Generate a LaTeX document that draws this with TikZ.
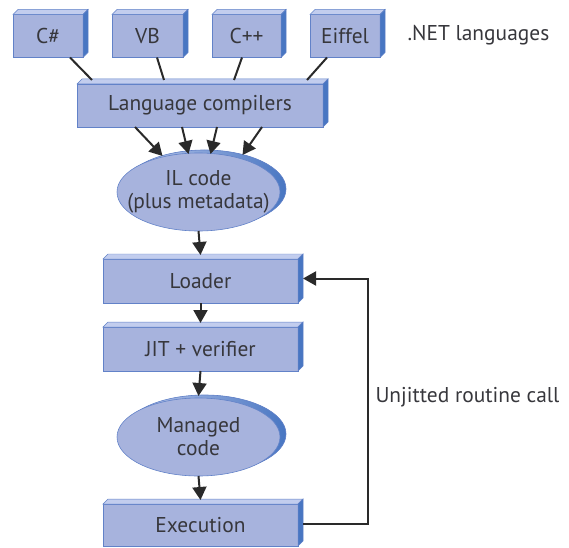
\documentclass[tikz,border=0pt]{standalone}
\usepackage{fontspec}
\setmainfont{PT Sans}
\usetikzlibrary{shapes.geometric,shadows,arrows.meta}

\definecolor{boxface}{RGB}{167,179,221}
\definecolor{boxline}{RGB}{98,130,200}
\definecolor{boxtop}{RGB}{194,205,238}
\definecolor{boxside}{RGB}{72,118,194}
\definecolor{inktext}{RGB}{55,55,60}
\definecolor{inkline}{RGB}{42,42,42}

\newcommand{\labelsize}{\fontsize{21.5}{23}\selectfont}

\tikzset{
  netbox/.style={rectangle, draw=boxline, line width=0.6pt, fill=boxface, outer sep=0pt,
    minimum height=43bp, text=inktext, font=\labelsize},
  netdisc/.style={ellipse, draw=boxline, line width=0.6pt, fill=boxface, outer sep=0pt,
    inner sep=0pt, text=inktext, align=center, font=\labelsize,
    minimum width=163bp, minimum height=78bp,
    copy shadow={shadow xshift=6bp, shadow yshift=3bp, left color=boxtop, right color=boxside, draw=boxline}},
  feed/.style={draw=inkline, line width=2bp},
  flow/.style={feed, -{Triangle[length=13bp,width=14bp]}},
}

% top and right faces of a box
\newcommand{\extrudebox}[1]{%
  \filldraw[fill=boxtop, draw=boxline, line width=0.5pt] (#1.north west) -- ++(5,-5) -- ([shift={(5,-5)}]#1.north east) -- (#1.north east) -- cycle;
  \filldraw[fill=boxside, draw=boxline, line width=0.5pt] (#1.north east) -- ++(5,-5) -- ([shift={(5,-5)}]#1.south east) -- (#1.south east) -- cycle;}

\begin{document}
\begin{tikzpicture}[x=1bp,y=-1bp]
 \useasboundingbox (0,0) rectangle (569,548);

 \node (csharp) [netbox, minimum width=70bp] at (48,36) {C\#};
 \node (vb) [netbox, minimum width=71bp] at (147.5,36) {VB};
 \node (cpp) [netbox, minimum width=69bp] at (246.5,36) {C++};
 \node (eiffel) [netbox, minimum width=70bp] at (345,36) {Eiffel};
 \node (netlang) [anchor=west, text=inktext, font=\labelsize] at (404,35) {.NET languages};

 \node (compilers) [netbox, minimum width=246bp] at (200,105.5) {Language compilers};
 \node (ilcode) [netdisc, inner xsep=-18bp] at (198.5,192) {IL code\\(plus metadata)};
 \node (loader) [netbox, minimum width=195bp, minimum height=44bp] at (200.5,281) {Loader};
 \node (jit) [netbox, minimum width=195bp, minimum height=44bp] at (200.5,349) {JIT + verifier};
 \node (managed) [netdisc] at (198.5,437) {Managed\\code};
 \node (execution) [netbox, minimum width=195bp, minimum height=42bp] at (200.5,525) {Execution};
 \node (unjitted) [anchor=west, text=inktext, font=\labelsize] at (372,397) {Unjitted routine call};

 \foreach \b in {csharp,vb,cpp,eiffel,compilers,loader,jit,execution}
   \extrudebox{\b};

 \draw[feed] ([xshift=22bp]csharp.south) -- ([xshift=-108bp,yshift=4bp]compilers.north);
 \draw[feed] ([xshift=9.5bp]vb.south) -- ([xshift=-36bp,yshift=4bp]compilers.north);
 \draw[feed] ([xshift=-4.5bp]cpp.south) -- ([xshift=34bp,yshift=4bp]compilers.north);
 \draw[feed] ([xshift=-18bp]eiffel.south) -- ([xshift=107bp,yshift=4bp]compilers.north);

 \foreach \a/\b/\c in {-65/-36/-3, -18/-10/-1, 17/12/-1, 62/44/-2}
   \draw[flow] ([xshift=\a bp]compilers.south) -- ([xshift=\b bp,yshift=\c bp]ilcode.north);

 \draw[flow] (ilcode.south) -- ([yshift=4bp]loader.north);
 \draw[flow] (loader.south) -- ([yshift=4bp]jit.north);
 \draw[flow] (jit.south) -- ([yshift=2bp]managed.north);
 \draw[flow] (managed.south) -- ([yshift=4bp]execution.north);

 \coordinate (loopback) at (368,400);
 \draw[flow] ([shift={(5,-1)}]execution.east) -| (loopback) |- ([shift={(5,-2.5)}]loader.east);
\end{tikzpicture}
\end{document}
